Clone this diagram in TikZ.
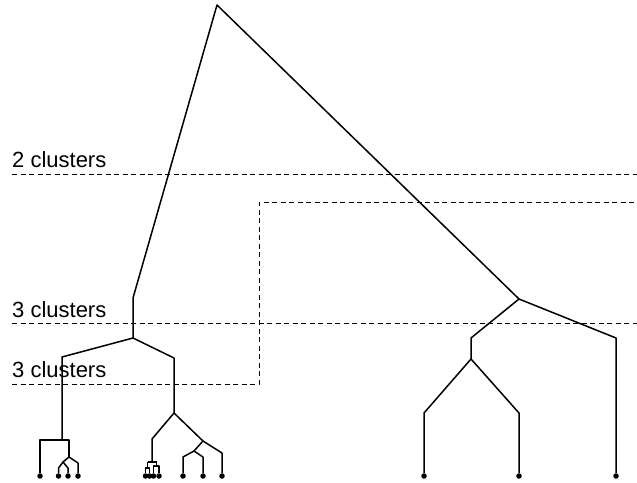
\documentclass[tikz,border=0pt]{standalone}
\usepackage{fontspec}
\setmainfont{Liberation Sans}
\begin{document}
\begin{tikzpicture}[x=1pt,y=-1pt,
  link/.style={line width=1.5pt, line join=round},
  cut/.style={line width=0.9pt, dash pattern=on 5pt off 3.5pt},
  leaf/.style={circle, fill, inner sep=0pt, minimum size=5.5pt},
  lbl/.style={anchor=base west, inner sep=0pt, font=\fontsize{22}{26}\selectfont}]
  \useasboundingbox (0,0) rectangle (637,482);

  % Cut levels
  \coordinate (c2w) at (12,174);   \coordinate (c2e) at (637,174);
  \coordinate (c3w) at (12,323);   \coordinate (c3e) at (637,323);
  \coordinate (c4w) at (12,384);   \coordinate (c4s) at (259,384);
  \coordinate (c4n) at (259,202);  \coordinate (c4e) at (637,202);
  \draw[cut] (c2w) -- (c2e);
  \draw[cut] (c3w) -- (c3e);
  \draw[cut] (c4w) -- (c4s) -- (c4n) -- (c4e);
  \node[lbl] (t2) at (12,167) {2 clusters};
  \node[lbl] (t3) at (12,317) {3 clusters};
  \node[lbl] (t4) at (12,377) {3 clusters};

  % Joints and knees of the tree
  \foreach \n/\x/\y in {root/217/5, kL/133/298, a/133/338,
      kA/62/357, b/62/440, bL/40/440, bR/69/440, c/69/457, kc/78/463,
      d/63/462, kd1/58.5/468, kd2/68/468,
      kB/174/358, e/174/413, ke/152/439, f/152/462,
      fL/147.5/462, fR/156.5/462, fL1/145.5/468, fL2/149.5/468,
      fR1/153.5/466, fR2/159/466,
      g/203/441, kg/222/453, h/194/451, kh1/183/457, kh2/203/457,
      r/519/299, kr1/471/338, s/471/359, ks1/424/413, ks2/519/413,
      kr2/616/338}
    \coordinate (\n) at (\x,\y);

  % Leaves
  \foreach \n/\x in {l1/40, l2/58.5, l3/68, l4/78,
      m1/145.5, m2/149.5, m3/153.5, m4/159, m5/183, m6/203, m7/222,
      n1/424, n2/519, n3/616}
    \node[leaf] (\n) at (\x,476) {};

  % Left cluster
  \draw[link] (r) -- (root) -- (kL) -- (a);
  \draw[link] (a) -- (kA) -- (b);
  \draw[link] (l1) -- (bL) -- (bR) -- (c);
  \draw[link] (d) -- (c) -- (kc) -- (l4);
  \draw[link] (l2) -- (kd1) -- (d) -- (kd2) -- (l3);

  % Middle cluster
  \draw[link] (a) -- (kB) -- (e);
  \draw[link] (g) -- (e) -- (ke) -- (f);
  \draw[link] (fL) -- (fR);
  \draw[link] (fL) -- (fL1 -| fL);
  \draw[link] (m1) -- (fL1) -- (fL2) -- (m2);
  \draw[link] (fR) -- (fR1 -| fR);
  \draw[link] (m3) -- (fR1) -- (fR2) -- (m4);
  \draw[link] (h) -- (g) -- (kg) -- (m7);
  \draw[link] (m5) -- (kh1) -- (h) -- (kh2) -- (m6);

  % Right cluster
  \draw[link] (r) -- (kr1) -- (s);
  \draw[link] (n1) -- (ks1) -- (s) -- (ks2) -- (n2);
  \draw[link] (r) -- (kr2) -- (n3);
\end{tikzpicture}
\end{document}
